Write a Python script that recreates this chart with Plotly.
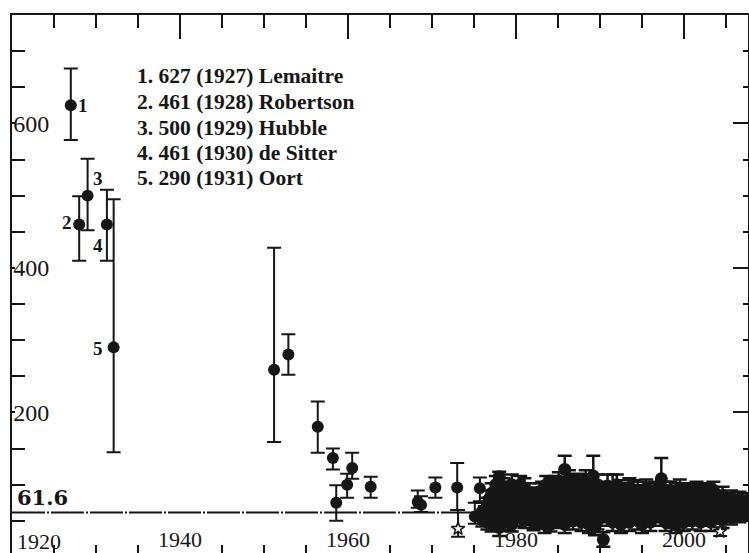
import plotly.graph_objects as go

# ---- data ----
early_year = [1927, 1928, 1929, 1931.3, 1932.1]
early_h = [625, 460, 500, 460, 290]
early_up = [51, 39, 51, 48, 205]
early_dn = [48, 50, 48, 50, 145]
early_tags = ["1", "2", "3", "4", "5"]

mid_year = [1951.2, 1952.9, 1956.4, 1958.2, 1958.6, 1959.9, 1960.5, 1962.7,
            1968.3, 1968.7, 1970.4, 1973.0, 1975.1, 1975.7]
mid_h = [259, 280, 180, 137, 75, 100, 123, 97, 76, 72, 96, 96, 56, 95]
mid_up = [169, 28, 35, 13, 24, 15, 21, 14, 16, 12, 14, 34, 19, 15]
mid_dn = [100, 28, 36, 16, 25, 18, 15, 15, 8, 10, 14, 31, 10, 18]

dense_year = [
    1976.0, 1976.0, 1976.6, 1976.6, 1977.1, 1977.1, 1977.1, 1977.6, 1977.6, 1977.6,
    1978.0, 1978.0, 1978.0, 1978.0, 1978.5, 1978.5, 1978.5, 1979.0, 1979.0, 1979.0,
    1979.5, 1979.5, 1979.5, 1980.0, 1980.0, 1980.0, 1980.5, 1980.5, 1980.5, 1981.0,
    1981.0, 1981.0, 1981.6, 1981.6, 1982.1, 1982.1, 1982.1, 1982.6, 1982.6, 1983.1,
    1983.1, 1983.1, 1983.6, 1983.6, 1983.6, 1984.1, 1984.1, 1984.1, 1984.1, 1984.6,
    1984.6, 1984.6, 1985.1, 1985.1, 1985.1, 1985.8, 1985.8, 1985.8, 1985.8, 1986.3,
    1986.3, 1986.3, 1986.3, 1986.8, 1986.8, 1986.8, 1987.3, 1987.3, 1987.3, 1987.8,
    1987.8, 1987.8, 1988.3, 1988.3, 1988.3, 1988.7, 1988.7, 1988.7, 1989.2, 1989.2,
    1989.2, 1989.7, 1989.7, 1989.7, 1990.4, 1990.4, 1990.4, 1990.9, 1990.9, 1991.5,
    1991.5, 1991.5, 1992.0, 1992.0, 1992.0, 1992.5, 1992.5, 1992.5, 1993.0, 1993.0,
    1993.0, 1993.5, 1993.5, 1993.5, 1994.0, 1994.0, 1994.0, 1994.5, 1994.5, 1994.5,
    1995.0, 1995.0, 1995.0, 1995.5, 1995.5, 1995.5, 1996.0, 1996.0, 1996.0, 1996.5,
    1996.5, 1996.5, 1997.3, 1997.3, 1997.3, 1997.8, 1997.8, 1997.8, 1998.4, 1998.4,
    1998.4, 1999.0, 1999.0, 1999.0, 1999.5, 1999.5, 1999.5, 2000.0, 2000.0, 2000.0,
    2000.5, 2000.5, 2000.5, 2001.0, 2001.0, 2001.0, 2001.5, 2001.5, 2002.0, 2002.0,
    2002.0, 2002.5, 2002.5, 2002.5, 2003.0, 2003.0, 2003.5, 2003.5, 2003.5, 2004.6,
    2004.6, 2004.6, 2005.1, 2005.1, 2005.6, 2005.6, 2005.6, 2006.1, 2006.1, 2006.6,
    2006.6, 2006.6, 2007.1, 2007.1, 2007.5, 2007.5,
]
dense_h = [
    52, 63, 70, 48, 88, 60, 45, 100, 76, 55,
    111, 86, 41, 66, 95, 72, 50, 80, 58, 90,
    100, 68, 45, 92, 75, 55, 85, 60, 100, 78,
    50, 95, 70, 88, 60, 82, 47, 75, 55, 90,
    65, 50, 100, 80, 58, 95, 70, 45, 85, 88,
    62, 100, 105, 75, 52, 121, 90, 65, 45, 108,
    80, 55, 95, 98, 70, 50, 85, 60, 103, 100,
    75, 48, 106, 82, 58, 95, 68, 45, 112, 88,
    62, 100, 75, 50, 24, 90, 65, 98, 55, 95,
    70, 48, 85, 60, 100, 92, 67, 45, 88, 55,
    75, 95, 70, 48, 80, 60, 92, 90, 65, 50,
    85, 72, 45, 95, 62, 55, 88, 70, 48, 92,
    60, 78, 108, 85, 55, 90, 65, 48, 92, 72,
    52, 88, 60, 45, 95, 70, 55, 85, 62, 48,
    90, 70, 55, 88, 65, 50, 92, 72, 85, 60,
    48, 90, 70, 55, 88, 65, 80, 58, 92, 85,
    65, 52, 78, 60, 82, 68, 55, 75, 62, 80,
    68, 58, 72, 62, 78, 65,
]
dense_err = [
    10, 12, 12, 10, 14, 12, 10, 12, 14, 12,
    7, 14, 12, 12, 14, 12, 12, 12, 12, 14,
    14, 12, 10, 12, 14, 12, 14, 12, 12, 12,
    10, 14, 12, 14, 12, 14, 10, 12, 12, 14,
    12, 10, 12, 14, 12, 14, 12, 10, 12, 14,
    12, 12, 12, 14, 12, 19, 14, 12, 12, 12,
    14, 12, 14, 14, 12, 12, 14, 12, 12, 14,
    12, 12, 14, 12, 12, 14, 12, 12, 28, 14,
    12, 14, 12, 12, 10, 14, 12, 16, 12, 19,
    12, 12, 14, 12, 14, 14, 12, 12, 14, 12,
    12, 14, 12, 12, 12, 12, 14, 14, 12, 12,
    14, 12, 12, 12, 12, 12, 14, 12, 12, 12,
    12, 12, 29, 14, 12, 14, 12, 12, 12, 12,
    12, 14, 12, 12, 12, 12, 12, 14, 12, 12,
    12, 12, 12, 14, 12, 12, 12, 12, 14, 12,
    12, 12, 12, 12, 12, 12, 12, 12, 12, 12,
    12, 12, 10, 10, 10, 10, 10, 10, 10, 10,
    10, 10, 10, 10, 10, 10,
]

# extra points filling the crowded 1976-2007 band
fill_year = [
    1976.3, 1976.8, 1977.3, 1977.8, 1978.3, 1978.8, 1979.3, 1979.8, 1980.3, 1980.8,
    1981.3, 1981.8, 1982.3, 1982.8, 1983.3, 1983.8, 1984.3, 1984.8, 1985.4, 1985.9,
    1986.5, 1987.0, 1987.5, 1988.0, 1988.5, 1989.0, 1989.5, 1990.0, 1990.6, 1991.2,
    1991.8, 1992.3, 1992.8, 1993.3, 1993.8, 1994.3, 1994.8, 1995.3, 1995.8, 1996.3,
    1996.8, 1997.5, 1998.0, 1998.7, 1999.3, 1999.8, 2000.3, 2000.8, 2001.3, 2001.8,
    2002.3, 2002.8, 2003.3, 2003.8, 2004.2, 2004.8, 2005.3, 2005.8, 2006.3, 2006.8,
    2007.3,
    1977.4, 1979.2, 1981.2, 1983.4, 1985.5, 1987.6, 1989.4, 1991.0, 1993.2, 1995.2,
    1997.0, 1999.2, 2001.2, 2003.2, 2005.4,
]
fill_h = [
    58, 80, 68, 90, 54, 78, 72, 60, 86, 70,
    62, 80, 70, 90, 58, 72, 80, 55, 88, 72,
    62, 78, 88, 70, 80, 58, 85, 72, 80, 62,
    85, 72, 62, 80, 58, 72, 80, 60, 78, 66,
    85, 72, 60, 80, 68, 82, 75, 60, 80, 58,
    75, 78, 70, 68, 62, 75, 70, 72, 68, 72,
    70,
    52, 48, 58, 45, 55, 58, 42, 60, 58, 60,
    62, 50, 58, 48, 62,
]
fill_err = [
    12, 12, 12, 12, 12, 12, 12, 12, 12, 12,
    12, 12, 12, 12, 12, 12, 12, 12, 12, 12,
    12, 12, 12, 12, 12, 12, 12, 12, 12, 12,
    12, 12, 12, 12, 12, 12, 12, 12, 12, 12,
    12, 12, 12, 12, 12, 12, 12, 12, 12, 12,
    12, 12, 12, 12, 12, 12, 10, 10, 10, 10,
    10,
    12, 12, 12, 12, 12, 12, 12, 12, 12, 12,
    12, 12, 12, 12, 12,
]

star_year = [1973.1, 2004.3]
star_h = [39, 35]
star_up = [26, 6]
star_dn = [11, 6]

legend_lines = [
    "1. 627 (1927) Lemaitre",
    "2. 461 (1928) Robertson",
    "3. 500 (1929) Hubble",
    "4. 461 (1930) de Sitter",
    "5. 290 (1931) Oort",
]
legend_y = [665, 630, 594, 559.5, 525]
legend_x = 1934.6
ref_value = 61.6
x_tick_labels = ["1920", "1940", "1960", "1980", "2000"]

# ---- figure ----
INK = "#161616"
X_RANGE = [1920, 2007.62]
Y_RANGE = [5.4, 750]

def err(up, dn):
    return dict(type="data", symmetric=False, array=up, arrayminus=dn,
                color=INK, thickness=2, width=7)

fig = go.Figure()
fig.add_trace(go.Scatter(x=early_year, y=early_h, mode="markers",
                         marker=dict(color=INK, size=12, symbol="circle"),
                         error_y=err(early_up, early_dn), showlegend=False))
fig.add_trace(go.Scatter(x=mid_year, y=mid_h, mode="markers",
                         marker=dict(color=INK, size=12, symbol="circle"),
                         error_y=err(mid_up, mid_dn), showlegend=False))
fig.add_trace(go.Scatter(x=fill_year, y=fill_h, mode="markers",
                         marker=dict(color=INK, size=13, symbol="circle"),
                         error_y=dict(type="data", array=fill_err, color=INK,
                                      thickness=2.5, width=7),
                         showlegend=False))
fig.add_trace(go.Scatter(x=dense_year, y=dense_h, mode="markers",
                         marker=dict(color=INK, size=13, symbol="circle"),
                         error_y=dict(type="data", array=dense_err, color=INK,
                                      thickness=2.5, width=7),
                         showlegend=False))
fig.add_trace(go.Scatter(x=star_year, y=star_h, mode="markers",
                         marker=dict(color="white", size=10, symbol="star",
                                     line=dict(width=1.5, color=INK)),
                         error_y=err(star_up, star_dn), showlegend=False))
# helper trace so the mirrored top/right axes exist
fig.add_trace(go.Scatter(x=[X_RANGE[0]], y=[None], xaxis="x2", yaxis="y2",
                         mode="markers", showlegend=False, hoverinfo="skip"))

# reference line
fig.add_shape(type="line", xref="paper", x0=0, x1=1, yref="y", y0=ref_value, y1=ref_value,
              line=dict(color=INK, width=2, dash="33px,2px,2px,2px"))

# annotations
serif = "Liberation Serif"
for txt, yy in zip(legend_lines, legend_y):
    fig.add_annotation(x=legend_x, y=yy, text="<b>%s</b>" % txt, showarrow=False,
                       xanchor="left", yanchor="middle",
                       font=dict(family=serif, size=21.5, color=INK))
tag_shift = [(12, 0), (-12, 2), (10, 17), (-9, -21), (-16, -1)]
for t, xx, yy, (dx, dy) in zip(early_tags, early_year, early_h, tag_shift):
    fig.add_annotation(x=xx, y=yy, text="<b>%s</b>" % t, showarrow=False, xshift=dx, yshift=dy,
                       font=dict(family=serif, size=19, color=INK))
fig.add_annotation(x=X_RANGE[0], y=ref_value, text="<b>61.6</b>", showarrow=False,
                   xanchor="left", yanchor="bottom", xshift=3, yshift=0,
                   font=dict(family="DejaVu Serif", size=21, color=INK))
fig.add_annotation(x=X_RANGE[0], y=Y_RANGE[0], text=x_tick_labels[0], showarrow=False,
                   xanchor="left", yanchor="bottom", xshift=3, yshift=-3,
                   font=dict(family=serif, size=22, color=INK))

axis_common = dict(showgrid=False, zeroline=False, showline=True, linecolor=INK,
                   linewidth=2, ticks="inside", tickcolor=INK, tickwidth=2,
                   automargin=False)

fig.update_layout(
    width=749, height=553,
    margin=dict(l=12, r=1, t=15, b=0),
    paper_bgcolor="white", plot_bgcolor="white",
    xaxis=dict(range=X_RANGE, tickmode="linear", tick0=1920, dtick=20, ticklen=0,
               ticklabelposition="inside", ticklabelstandoff=3,
               tickfont=dict(family=serif, size=22, color=INK),
               minor=dict(tick0=1920, dtick=5, ticklen=8, ticks="inside", tickcolor=INK,
                          tickwidth=2),
               **axis_common),
    xaxis2=dict(range=X_RANGE, overlaying="x", side="top", anchor="y2", tickmode="linear",
                tick0=1920, dtick=20, ticklen=24, showticklabels=False,
                minor=dict(tick0=1920, dtick=5, ticklen=13, ticks="inside", tickcolor=INK,
                           tickwidth=2),
                **axis_common),
    yaxis=dict(range=Y_RANGE, tickmode="linear", tick0=0, dtick=200, ticklen=3,
               ticklabelposition="inside", tickfont=dict(family=serif, size=24, color=INK),
               minor=dict(tick0=0, dtick=50, ticklen=13, ticks="inside", tickcolor=INK,
                          tickwidth=2),
               **axis_common),
    yaxis2=dict(range=Y_RANGE, overlaying="y", side="right", anchor="x2", tickmode="linear",
                tick0=0, dtick=200, ticklen=15, showticklabels=False,
                minor=dict(tick0=0, dtick=50, ticklen=5, ticks="inside", tickcolor=INK,
                           tickwidth=2),
                **axis_common),
)

fig.write_html("out.html")
